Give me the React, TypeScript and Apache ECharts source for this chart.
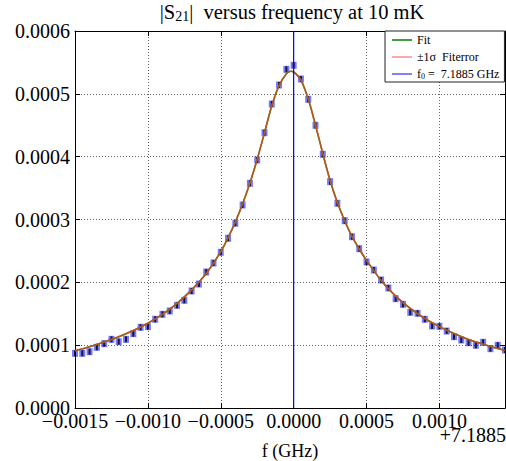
import React, { useEffect, useRef } from "react";
import * as echarts from "echarts";

// frequency offsets from f0 = 7.1885 GHz (GHz)
const freqOffsets = [
  -0.0015, -0.00145, -0.0014, -0.00135, -0.0013, -0.00125, -0.0012, -0.00115, -0.0011, -0.00105,
  -0.001, -0.00095, -0.0009, -0.00085, -0.0008, -0.00075, -0.0007, -0.00065, -0.0006, -0.00055,
  -0.0005, -0.00045, -0.0004, -0.00035, -0.0003, -0.00025, -0.0002, -0.00015, -0.0001, -0.00005,
  0, 0.00005, 0.0001, 0.00015, 0.0002, 0.00025, 0.0003, 0.00035, 0.0004, 0.00045,
  0.0005, 0.00055, 0.0006, 0.00065, 0.0007, 0.00075, 0.0008, 0.00085, 0.0009, 0.00095,
  0.001, 0.00105, 0.0011, 0.00115, 0.0012, 0.00125, 0.0013, 0.00135, 0.0014, 0.00145,
];

// measured |S21|
const s21Measured = [
  0.000087, 0.000087, 0.0000896, 0.0000966, 0.0001023, 0.0001093, 0.0001055, 0.0001093, 0.0001183, 0.0001284,
  0.0001294, 0.0001412, 0.0001491, 0.0001544, 0.0001634, 0.0001714, 0.0001862, 0.0001973, 0.0002164, 0.0002308,
  0.0002478, 0.0002701, 0.000294, 0.0003231, 0.0003576, 0.0003947, 0.0004382, 0.0004838, 0.0005141, 0.000539,
  0.0005454, 0.0005236, 0.0004913, 0.0004499, 0.0004038, 0.0003602, 0.0003258, 0.0002981, 0.0002726, 0.0002535,
  0.0002324, 0.0002196, 0.0002037, 0.000191, 0.000174, 0.000165, 0.0001523, 0.0001507, 0.0001412, 0.0001305,
  0.00013, 0.0001225, 0.0001135, 0.0001082, 0.0001039, 0.0000998, 0.0001046, 0.0000944, 0.0000998, 0.0000923,
];

// fit curve
const fitFreq = [
  -0.0015, -0.0014, -0.0013, -0.0012, -0.0011, -0.001, -0.0009, -0.0008, -0.0007, -0.0006,
  -0.0005, -0.00045, -0.0004, -0.00035, -0.0003, -0.00025, -0.0002, -0.00015, -0.0001, -0.00005,
  -0.00002, 0, 0.00005, 0.0001, 0.00015, 0.0002, 0.00025, 0.0003, 0.00035, 0.0004,
  0.00045, 0.0005, 0.0006, 0.0007, 0.0008, 0.0009, 0.001, 0.0011, 0.0012, 0.0013,
  0.0014, 0.00145,
];
const fitS21 = [
  0.0000912, 0.0000975, 0.000105, 0.0001135, 0.0001235, 0.000135, 0.000149, 0.0001665, 0.000188, 0.000214,
  0.000249, 0.000271, 0.000296, 0.000325, 0.000358, 0.000396, 0.000438, 0.000481, 0.000513, 0.000532,
  0.000536, 0.000535, 0.000522, 0.000492, 0.00045, 0.000405, 0.000362, 0.000327, 0.000298, 0.000273,
  0.000253, 0.000235, 0.000203, 0.000178, 0.0001585, 0.0001425, 0.0001295, 0.0001185, 0.000109, 0.0001015,
  0.0000946, 0.0000915,
];

const f0Line = [0, 0];
const f0LineY = [0, 0.0006];

const SERIF = "serif";

export default function App() {
  const ref = useRef<HTMLDivElement>(null);
  useEffect(() => {
    if (!ref.current) return;
    const chart = echarts.init(ref.current, null, { renderer: "svg" });
    const pts = freqOffsets.map((f, i) => [f, s21Measured[i]]);
    const fit = fitFreq.map((f, i) => [f, fitS21[i]]);
    const vline = f0Line.map((f, i) => [f, f0LineY[i]]);
    const fmtX = (v: number) => (v < -1e-12 ? "\u2212" : "") + Math.abs(v).toFixed(4);
    const gridLine = { show: true, lineStyle: { color: "#666", type: [1, 2] as any, width: 1 } };
    chart.setOption({
      animation: false,
      backgroundColor: "#fff",
      grid: { left: 75, right: 1, top: 31, bottom: 53, containLabel: false },
      xAxis: [
        {
          type: "value",
          min: -0.0015,
          max: 0.00145,
          interval: 0.0005,
          axisLine: { show: true, onZero: false, lineStyle: { color: "#000", width: 1 } },
          axisTick: { show: true, inside: true, length: 5, lineStyle: { color: "#000" } },
          axisLabel: {
            formatter: fmtX,
            fontFamily: SERIF,
            fontSize: 20,
            color: "#000",
            margin: 3,
            showMaxLabel: false,
          },
          splitLine: gridLine,
        },
        {
          type: "value",
          position: "top",
          min: -0.0015,
          max: 0.00145,
          interval: 0.0005,
          axisLine: { show: true, onZero: false, lineStyle: { color: "#000", width: 1 } },
          axisTick: { show: true, inside: true, length: 5, lineStyle: { color: "#000" } },
          axisLabel: { show: false },
          splitLine: { show: false },
        },
      ],
      yAxis: [
        {
          type: "value",
          min: 0,
          max: 0.0006,
          interval: 0.0001,
          axisLine: { show: true, onZero: false, lineStyle: { color: "#000", width: 1 } },
          axisTick: { show: true, inside: true, length: 5, lineStyle: { color: "#000" } },
          axisLabel: {
            formatter: (v: number) => v.toFixed(4),
            fontFamily: SERIF,
            fontSize: 20,
            color: "#000",
            margin: 5,
          },
          splitLine: gridLine,
        },
        {
          type: "value",
          position: "right",
          min: 0,
          max: 0.0006,
          interval: 0.0001,
          axisLine: { show: true, onZero: false, lineStyle: { color: "#000", width: 1 } },
          axisTick: { show: true, inside: true, length: 5, lineStyle: { color: "#000" } },
          axisLabel: { show: false },
          splitLine: { show: false },
        },
      ],
      legend: {
        left: 385,
        top: 31,
        orient: "vertical",
        backgroundColor: "#fff",
        borderColor: "#222",
        borderWidth: 1,
        borderRadius: 0,
        padding: [3, 5, 2, 6],
        itemWidth: 20,
        itemHeight: 12,
        itemGap: 5,
        textStyle: {
          fontFamily: SERIF,
          fontSize: 12,
          color: "#000",
          rich: {
            t: { fontFamily: SERIF, fontSize: 12, color: "#000" },
            s: { fontFamily: SERIF, fontSize: 8, color: "#000", verticalAlign: "bottom", padding: [4, 0, 0, 0] },
          },
        },
        formatter: (name: string) =>
          name === "f0" ? "{t|f}{s|0}{t| =  7.1885 GHz}" : name,
        data: [
          { name: "Fit", lineStyle: { color: "#008000", width: 1.5 }, itemStyle: { opacity: 0 } },
          { name: "\u00b11\u03c3  Fiterror", lineStyle: { color: "#ffaaaa", width: 2 }, itemStyle: { opacity: 0 } },
          { name: "f0", lineStyle: { color: "#8080ff", width: 2 }, itemStyle: { opacity: 0 } },
        ],
      },
      graphic: [
        {
          type: "text",
          x: 292,
          y: 12,
          style: {
            text: "{a||S}{b|21}{a||  versus frequency at 10 mK}",
            align: "center",
            verticalAlign: "middle",
            rich: {
              a: { fontFamily: SERIF, fontSize: 20.5, fill: "#000" } as any,
              b: { fontFamily: SERIF, fontSize: 14, fill: "#000", padding: [8, 0, 0, 0] } as any,
            },
          },
        },
        {
          type: "text",
          x: 506,
          y: 435,
          style: {
            text: "+7.1885",
            align: "right",
            verticalAlign: "middle",
            fontFamily: SERIF,
            fontSize: 20,
            fill: "#000",
          },
        },
        {
          type: "text",
          x: 290,
          y: 451,
          style: {
            text: "f (GHz)",
            align: "center",
            verticalAlign: "middle",
            fontFamily: SERIF,
            fontSize: 18,
            fill: "#000",
          },
        },
      ],
      series: [
        {
          name: "data-halo",
          type: "scatter",
          data: pts,
          symbol: "rect",
          symbolSize: [6, 7],
          itemStyle: { color: "rgba(30,30,255,0.75)" },
          z: 3,
        },
        {
          name: "data-err",
          type: "scatter",
          data: pts,
          symbol: "rect",
          symbolSize: [2, 6],
          itemStyle: { color: "#000" },
          z: 4,
        },
        {
          name: "Fit",
          type: "line",
          data: fit,
          smooth: 0.3,
          symbol: "none",
          lineStyle: { color: "#008000", width: 1.6 },
          z: 5,
        },
        {
          name: "\u00b11\u03c3  Fiterror",
          type: "line",
          data: fit,
          smooth: 0.3,
          symbol: "none",
          lineStyle: { color: "rgba(255,70,40,0.72)", width: 1.6 },
          z: 6,
        },
        {
          name: "f0",
          type: "line",
          data: vline,
          symbol: "none",
          lineStyle: { color: "#0000ff", width: 1.2 },
          z: 7,
        },
      ],
    });
    return () => chart.dispose();
  }, []);
  return (
    <div
      ref={ref}
      style={{ position: "fixed", left: 0, top: 0, width: 506, height: 461, background: "#fff" }}
    />
  );
}
